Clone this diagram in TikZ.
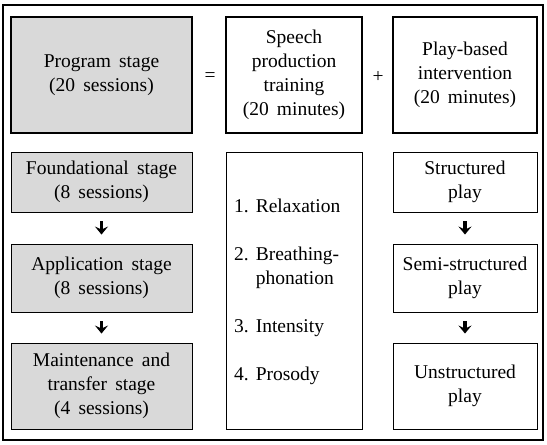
\documentclass[tikz,border=0pt]{standalone}
\usepackage{fontspec}
\setmainfont{Liberation Serif}
\usetikzlibrary{arrows.meta}
\definecolor{stagegray}{HTML}{D9D9D9}
\definecolor{ink}{HTML}{000000}
\newcommand{\widewords}{\spaceskip=0.42em\relax}

\begin{document}
\begin{tikzpicture}[x=1pt,y=-1pt,
  every node/.style={text=ink, font=\fontsize{19.5}{24}\selectfont\widewords},
  head/.style={draw=ink, line width=2.4pt, rectangle, align=center, inner sep=0pt, minimum height=116pt},
  part/.style={draw=ink, line width=0.9pt, rectangle, align=center, inner sep=0pt},
  stage/.style={part, fill=stagegray, minimum width=181pt},
  play/.style={part, minimum width=144pt},
  next/.style={draw=ink, line width=3.2pt, -{Stealth[length=8pt,width=13pt,inset=3pt]}, shorten <=9pt, shorten >=9pt}]
\useasboundingbox (0,0) rectangle (547,445);
\draw[ink, line width=2.2pt] (3,5) rectangle (543,440);

\node[head, fill=stagegray, minimum width=181pt] (program) at (101.5, 75) {Program stage\\(20 sessions)};
\node (equals) at (210, 77) {=};
\node[head, minimum width=136pt] (speech) at (294, 75) {Speech\\production\\training\\(20 minutes)};
\node (plus) at (378, 77) {+};
\node[head, minimum width=144pt] (playbased) at (465, 75) {Play-based\\intervention\\(20 minutes)};

\node[stage, minimum height=60pt] (found) at (101.5, 182) {Foundational stage\\(8 sessions)};
\node[stage, minimum height=68pt] (appl) at (101.5, 278) {Application stage\\(8 sessions)};
\node[stage, minimum height=86pt] (maint) at (101.5, 386) {Maintenance and\\transfer stage\\(4 sessions)};
\draw[next] (found) -- (appl);
\draw[next] (appl) -- (maint);

\node[part, minimum width=136pt, minimum height=277pt] (steps) at (294, 290.5) {};
\node[anchor=west, inner sep=0pt] (items) at (234, 291.5) {\begin{tabular}{@{}l@{\hspace{7pt}}l@{}}
1. & Relaxation\\[24pt]
2. & Breathing-\\
   & phonation\\[24pt]
3. & Intensity\\[24pt]
4. & Prosody
\end{tabular}};

\node[play, minimum height=60pt] (struct) at (465, 182) {Structured\\play};
\node[play, minimum height=68pt] (semi) at (465, 278) {Semi-structured\\play};
\node[play, minimum height=86pt] (unstruct) at (465, 386) {Unstructured\\play};
\draw[next] (struct) -- (semi);
\draw[next] (semi) -- (unstruct);
\end{tikzpicture}
\end{document}
